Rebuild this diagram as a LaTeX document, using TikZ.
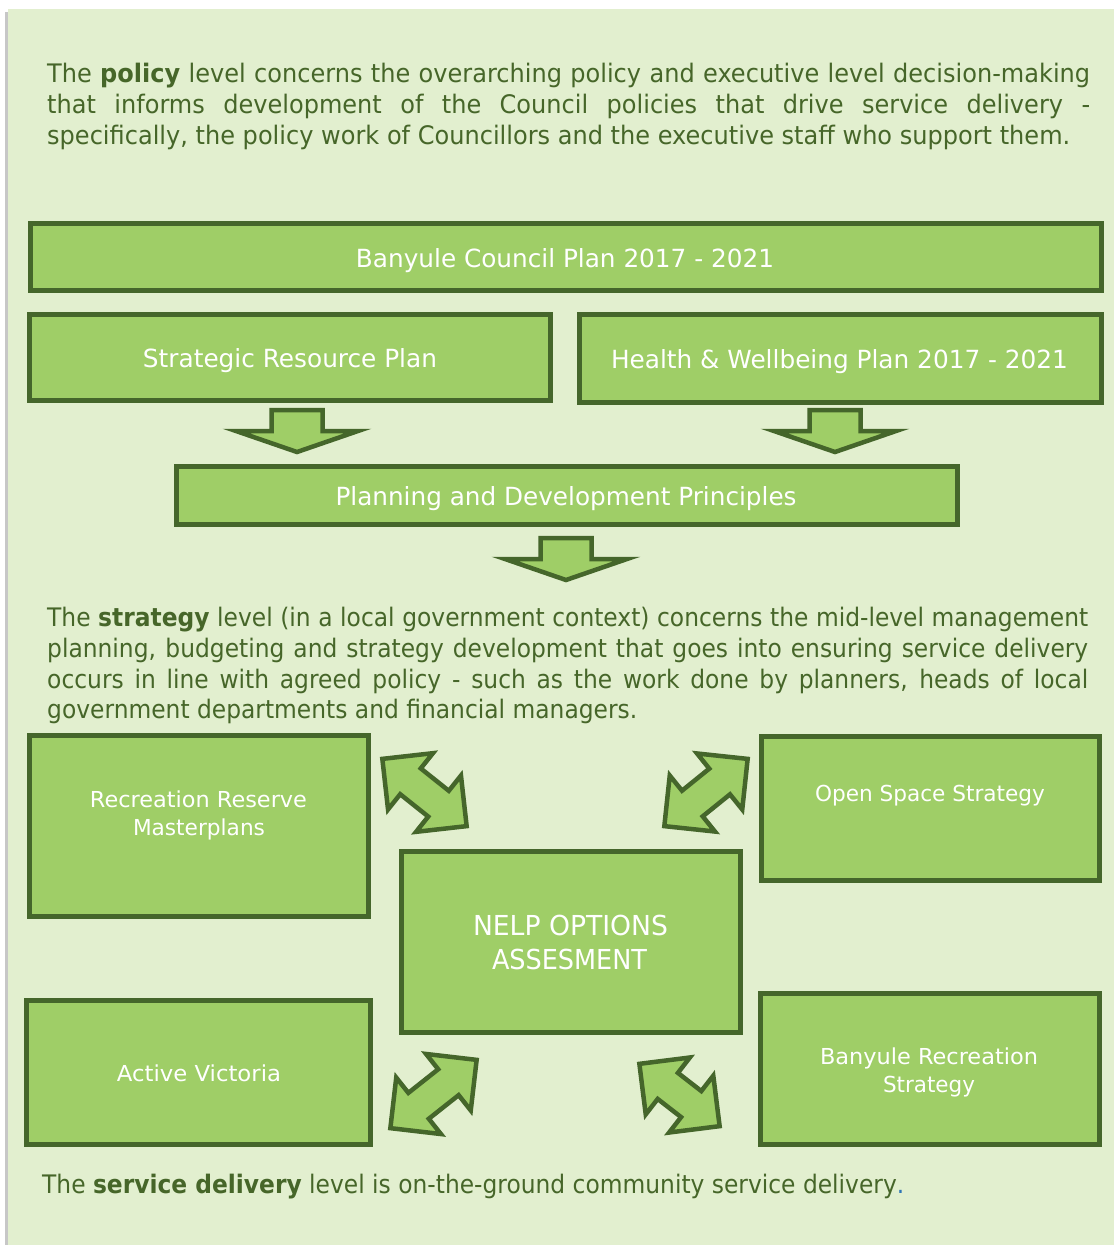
\documentclass[tikz,border=0pt]{standalone}
\usepackage{fontspec}
\setmainfont{DejaVu Sans}
\usepackage{graphicx}
\usetikzlibrary{calc,fit}
\definecolor{pagebg}{HTML}{E2EFCF}
\definecolor{boxfill}{HTML}{9FCE67}
\definecolor{boxline}{HTML}{45662B}
\definecolor{txtgreen}{HTML}{466629}
\definecolor{dotblue}{HTML}{2E75B6}
\newsavebox\measbox
\newcommand\bsize[1]{\fontsize{#1}{#1}\selectfont}
\tikzset{
  gbox/.style={draw=boxline, fill=boxfill, line width=5pt, inner sep=0pt, rectangle},
  btext/.style={text=white, inner sep=0pt, anchor=base},
  ptext/.style={text=txtgreen, inner sep=0pt, anchor=base west},
  blockarr/.style={draw=boxline, fill=boxfill, line width=4.5pt, line join=miter},
}
% down block arrow: cx, top, head y, tip y, shaft half, head half
\newcommand\dnarrow[6]{%
  \draw[blockarr] ({#1-#5},#2) -- ({#1+#5},#2) -- ({#1+#5},#3) -- ({#1+#6},#3)
    -- (#1,#4) -- ({#1-#6},#3) -- ({#1-#5},#3) -- cycle;}
% double headed block arrow between two tip coordinates
\newcommand\dblarrow[2]{%
  \path ($(#1)!3pt!(#2)$) coordinate (tA) ($(#2)!3pt!(#1)$) coordinate (tB);
  \path ($(tA)!36pt!(tB)$) coordinate (hA) ($(tB)!36pt!(tA)$) coordinate (hB);
  \draw[blockarr] (tA) -- ($(hA)!36pt!90:(tB)$) -- ($(hA)!16.5pt!90:(tB)$)
    -- ($(hB)!16.5pt!-90:(tA)$) -- ($(hB)!36pt!-90:(tA)$) -- (tB)
    -- ($(hB)!36pt!90:(tA)$) -- ($(hB)!16.5pt!90:(tA)$)
    -- ($(hA)!16.5pt!-90:(tB)$) -- ($(hA)!36pt!-90:(tB)$) -- cycle;}
\begin{document}
\sbox\measbox{\bsize{25.5}specifically, the policy work of Councillors and the executive staff who support them.}%
\pgfmathsetmacro\sA{1023/\the\wd\measbox}%
\pgfmathsetlengthmacro\wA{1043/\sA}%
\sbox\measbox{\bsize{25.5}government departments and financial managers.}%
\pgfmathsetmacro\sB{590/\the\wd\measbox}%
\pgfmathsetlengthmacro\wB{1041/\sB}%
\begin{tikzpicture}[x=1pt,y=-1pt]
\useasboundingbox (0,0) rectangle (1114,1245);
\fill[white] (0,0) rectangle (1114,1245);
\fill[black!22] (4.5,12) rectangle (8.5,1245);
\fill[pagebg] (8,9) rectangle (1114,1245);

% policy paragraph
\node[ptext] (pa1) at (47,82) {\bsize{25.5}\scalebox{\sA}[1]{\makebox[\wA][s]{The \textbf{policy} level concerns the overarching policy and executive level decision-making}}};
\node[ptext] (pa2) at (47,113) {\bsize{25.5}\scalebox{\sA}[1]{\makebox[\wA][s]{that informs development of the Council policies that drive service delivery -}}};
\node[ptext] (pa3) at (47,144) {\bsize{25.5}\scalebox{\sA}[1]{specifically, the policy work of Councillors and the executive staff who support them.}};

% policy boxes
\node[gbox, fit={(30.5,223.5) (1101.5,290.5)}] (council) {};
\node[gbox, fit={(29.5,314.5) (550.5,400.5)}] (srp) {};
\node[gbox, fit={(579.5,314.5) (1101.5,402.5)}] (hwp) {};
\node[gbox, fit={(176.5,466.5) (957.5,524.5)}] (pdp) {};
\node[btext] (councilT) at (565,267) {\bsize{25}\resizebox{418pt}{\height}{Banyule Council Plan 2017 - 2021}};
\node[btext] (srpT) at (290,367) {\bsize{25}\resizebox{294pt}{\height}{Strategic Resource Plan}};
\node[btext] (hwpT) at (839.5,368) {\bsize{25}\resizebox{457pt}{\height}{Health \& Wellbeing Plan 2017 - 2021}};
\node[btext] (pdpT) at (566,505) {\bsize{25}\resizebox{461pt}{\height}{Planning and Development Principles}};

\dnarrow{297}{410}{431}{452}{25.5}{61}
\dnarrow{835}{410}{431}{452}{25.5}{61}
\dnarrow{566}{538}{559}{580}{25.5}{61}

% strategy paragraph
\node[ptext] (pb1) at (47,626) {\bsize{25.5}\scalebox{\sB}[1]{\makebox[\wB][s]{The \textbf{strategy} level (in a local government context) concerns the mid-level management}}};
\node[ptext] (pb2) at (47,657) {\bsize{25.5}\scalebox{\sB}[1]{\makebox[\wB][s]{planning, budgeting and strategy development that goes into ensuring service delivery}}};
\node[ptext] (pb3) at (47,688) {\bsize{25.5}\scalebox{\sB}[1]{\makebox[\wB][s]{occurs in line with agreed policy - such as the work done by planners, heads of local}}};
\node[ptext] (pb4) at (47,718) {\bsize{25.5}\scalebox{\sB}[1]{government departments and financial managers.}};

% strategy boxes
\node[gbox, fit={(29.5,735.5) (368.5,916.5)}] (rrm) {};
\node[gbox, fit={(761.5,736.5) (1099.5,880.5)}] (oss) {};
\node[gbox, fit={(401.5,851.5) (740.5,1032.5)}] (nelp) {};
\node[gbox, fit={(26.5,1000.5) (370.5,1144.5)}] (av) {};
\node[gbox, fit={(760.5,993.5) (1099.5,1144.5)}] (brs) {};

\node[btext] (rrmT1) at (198.5,807) {\bsize{22}\resizebox{217pt}{\height}{Recreation Reserve}};
\node[btext] (rrmT2) at (199,835) {\bsize{22}\resizebox{132pt}{\height}{Masterplans}};
\node[btext] (ossT) at (930,801) {\bsize{22}\resizebox{230pt}{\height}{Open Space Strategy}};
\node[btext] (nelpT1) at (570.5,935) {\bsize{27.5}\resizebox{195pt}{\height}{NELP OPTIONS}};
\node[btext] (nelpT2) at (569.5,969) {\bsize{27.5}\resizebox{155pt}{\height}{ASSESMENT}};
\node[btext] (avT) at (199,1081) {\bsize{22}\resizebox{164pt}{\height}{Active Victoria}};
\node[btext] (brsT1) at (929,1064) {\bsize{22}\resizebox{218pt}{\height}{Banyule Recreation}};
\node[btext] (brsT2) at (929,1092) {\bsize{22}\resizebox{92pt}{\height}{Strategy}};

% double arrows
\coordinate (ulA) at (380,757); \coordinate (ulB) at (469,828);
\coordinate (urA) at (750,757); \coordinate (urB) at (662,828);
\coordinate (llA) at (388,1130); \coordinate (llB) at (479,1058);
\coordinate (lrA) at (637,1062); \coordinate (lrB) at (722,1128);
\dblarrow{ulA}{ulB}
\dblarrow{urA}{urB}
\dblarrow{llA}{llB}
\dblarrow{lrA}{lrB}

% service delivery line
\node[ptext] (pc) at (42,1193) {\bsize{25.5}\resizebox{862pt}{\height}{The \textbf{service delivery} level is on-the-ground community service delivery\textcolor{dotblue}{.}}};
\end{tikzpicture}
\end{document}
